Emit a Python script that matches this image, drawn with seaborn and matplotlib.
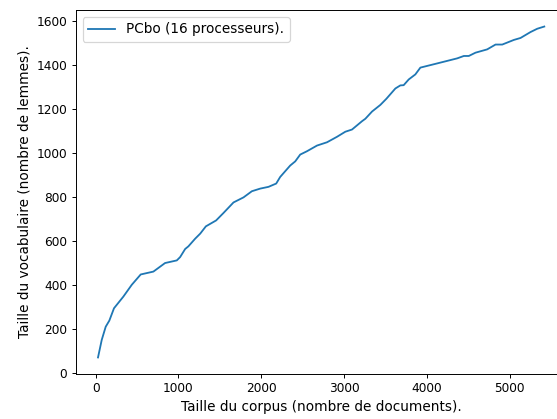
import matplotlib
matplotlib.use("Agg")
import matplotlib.pyplot as plt
import seaborn as sns
import pandas as pd

corpus_size = [28, 73, 121, 165, 221, 334, 436, 544, 697, 838, 980, 1020, 1081, 1120,
               1202, 1263, 1331, 1455, 1544, 1665, 1786, 1887, 1988, 2088, 2181, 2229,
               2350, 2411, 2471, 2552, 2674, 2795, 2916, 3016, 3097, 3218, 3258, 3339,
               3439, 3512, 3621, 3681, 3721, 3782, 3862, 3923, 4125, 4367, 4448, 4508,
               4589, 4730, 4831, 4912, 5052, 5133, 5254, 5335, 5420]
vocab_size = [70, 150, 210, 238, 294, 347, 401, 448, 461, 500, 512, 527, 564, 576,
              611, 634, 667, 694, 728, 776, 799, 827, 839, 847, 862, 892,
              944, 963, 994, 1009, 1035, 1050, 1075, 1098, 1108, 1146, 1157, 1190,
              1220, 1248, 1295, 1309, 1310, 1336, 1359, 1390, 1409, 1432, 1443, 1443,
              1458, 1473, 1495, 1495, 1516, 1525, 1552, 1567, 1577]
series_label = "PCbo (16 processeurs)."
x_label = "Taille du corpus (nombre de documents)."
y_label = "Taille du vocabulaire (nombre de lemmes)."

df = pd.DataFrame({"x": corpus_size, "y": vocab_size})

plt.rcParams['font.family'] = ['DejaVu Sans']
fig = plt.figure(figsize=(557 / 87, 419 / 87), dpi=87)
ax = fig.add_axes([75.7 / 557, 1 - 374 / 419, (566.6 - 75.7) / 557, (374 - 10) / 419])
sns.lineplot(data=df, x="x", y="y", ax=ax, color="#1f77b4", linewidth=1.5,
             label=series_label, estimator=None, sort=False)
ax.set_xlabel(x_label, fontsize=11.3)
ax.set_ylabel(y_label, fontsize=11.3)
ax.legend(loc="upper left", fontsize=11.3)
ax.set_xticks([0, 1000, 2000, 3000, 4000, 5000])
ax.set_yticks([0, 200, 400, 600, 800, 1000, 1200, 1400, 1600])
fig.savefig("out.png", dpi=87)
